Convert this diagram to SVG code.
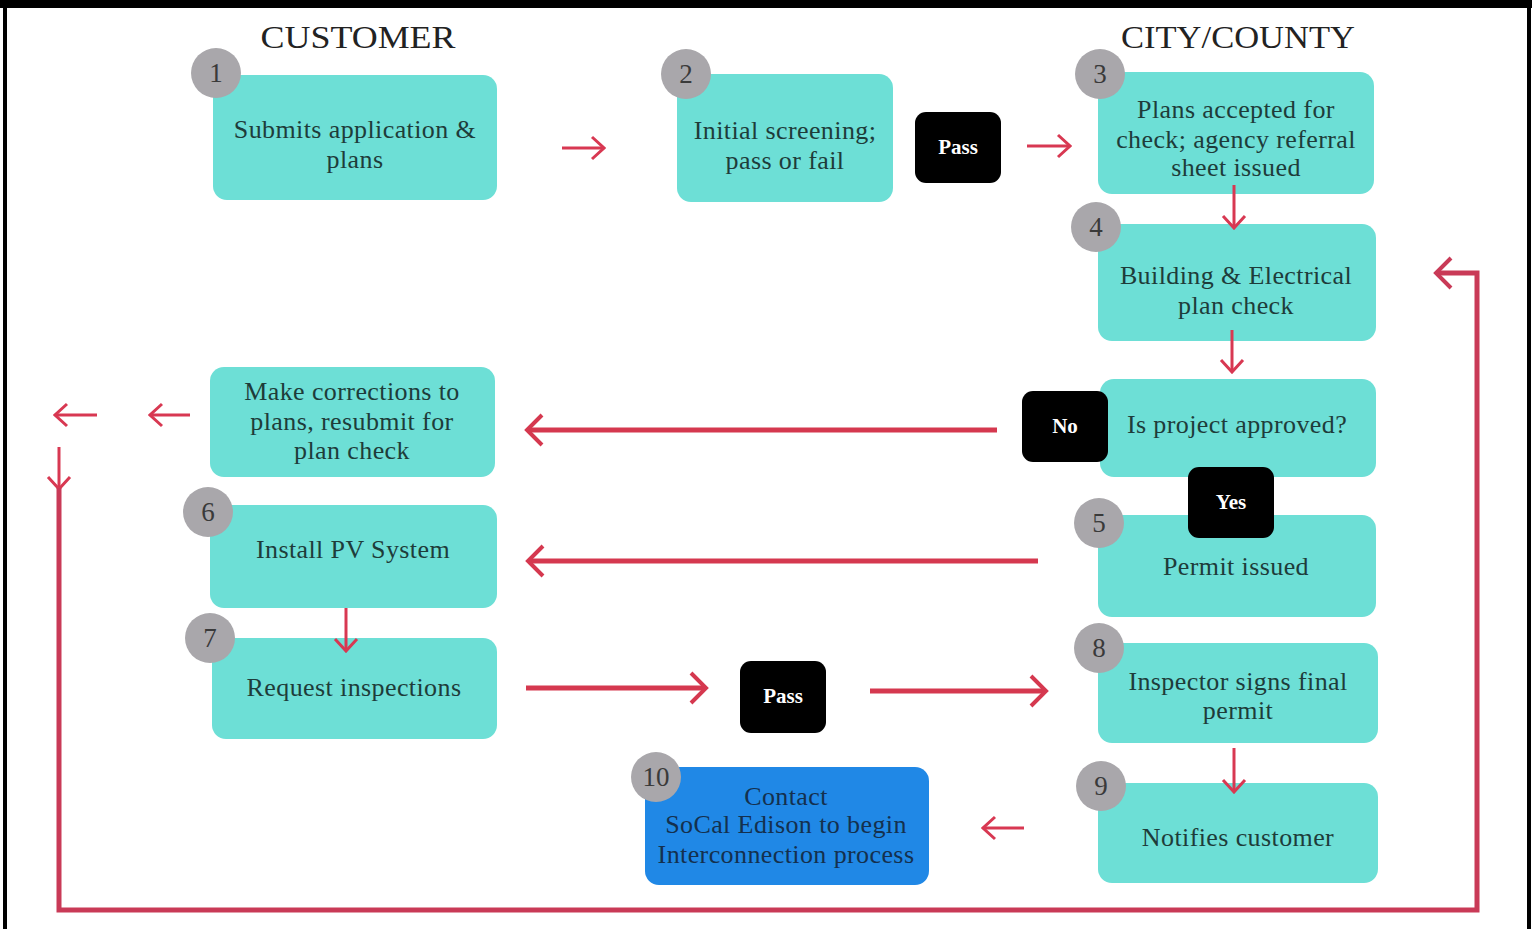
<svg xmlns="http://www.w3.org/2000/svg" width="1538" height="929" viewBox="0 0 1538 929">
<defs>
<style>
.box{fill:#6DDFD6}
.blue{fill:#2088E6}
.blk{fill:#000}
.num{fill:#A9A7AB}
.numt{font-family:"Liberation Serif",serif;font-size:27px;fill:#3A3A3A;text-anchor:middle}
.t{font-family:"Liberation Serif",serif;font-size:26px;letter-spacing:0.4px;fill:#1E3C3A;text-anchor:middle}
.tb{font-family:"Liberation Serif",serif;font-size:26px;letter-spacing:0.4px;fill:#14304E;text-anchor:middle}
.w{font-family:"Liberation Serif",serif;font-size:21px;font-weight:bold;fill:#fff;text-anchor:middle}
.h{font-family:"Liberation Serif",serif;font-size:32px;fill:#222;text-anchor:middle}
.a{fill:none;stroke:#D83852;stroke-width:3}
.A{fill:none;stroke:#D5384F;stroke-width:5}
.L{fill:none;stroke:#C93A57;stroke-width:5}
</style>
<marker id="s" viewBox="0 0 16 26" refX="14" refY="13" markerWidth="16" markerHeight="26" markerUnits="userSpaceOnUse" orient="auto"><path d="M2,2 L14,13 L2,24" fill="none" stroke="#D83852" stroke-width="3"/></marker>
<marker id="b" viewBox="0 0 20 34" refX="17" refY="17" markerWidth="20" markerHeight="34" markerUnits="userSpaceOnUse" orient="auto"><path d="M2,2 L17,17 L2,32" fill="none" stroke="#D5384F" stroke-width="4"/></marker>
<marker id="bl" viewBox="0 0 20 34" refX="17" refY="17" markerWidth="20" markerHeight="34" markerUnits="userSpaceOnUse" orient="auto"><path d="M2,2 L17,17 L2,32" fill="none" stroke="#C93A57" stroke-width="4"/></marker>
</defs>
<rect x="0" y="0" width="1538" height="929" fill="#fff"/>
<rect x="0" y="0" width="1532" height="8" fill="#000"/>
<rect x="3" y="0" width="4" height="929" fill="#000"/>
<rect x="1527" y="0" width="4" height="929" fill="#000"/>
<text class="h" x="358" y="48" textLength="195" lengthAdjust="spacingAndGlyphs">CUSTOMER</text>
<text class="h" x="1238" y="48" textLength="234" lengthAdjust="spacingAndGlyphs">CITY/COUNTY</text>

<g id="n1"><rect class="box" x="213" y="75" width="284" height="125" rx="14"/><circle class="num" cx="216" cy="73" r="25"/><text class="numt" x="216" y="82">1</text><text class="t" x="355" y="138">Submits application &amp;</text><text class="t" x="355" y="168">plans</text></g>
<g id="n2"><rect class="box" x="677" y="74" width="216" height="128" rx="14"/><circle class="num" cx="686" cy="74" r="25"/><text class="numt" x="686" y="83">2</text><text class="t" x="785" y="139">Initial screening;</text><text class="t" x="785" y="169">pass or fail</text></g>
<g id="pass1"><rect class="blk" x="915" y="112" width="86" height="71" rx="11"/><text class="w" x="958" y="154">Pass</text></g>
<g id="n3"><rect class="box" x="1098" y="72" width="276" height="122" rx="14"/><circle class="num" cx="1100" cy="74" r="25"/><text class="numt" x="1100" y="83">3</text><text class="t" x="1236" y="118">Plans accepted for</text><text class="t" x="1236" y="148">check; agency referral</text><text class="t" x="1236" y="176">sheet issued</text></g>
<g id="n4"><rect class="box" x="1098" y="224" width="278" height="117" rx="14"/><circle class="num" cx="1096" cy="227" r="25"/><text class="numt" x="1096" y="236">4</text><text class="t" x="1236" y="284">Building &amp; Electrical</text><text class="t" x="1236" y="314">plan check</text></g>
<g id="approved"><rect class="box" x="1100" y="379" width="276" height="98" rx="14"/><text class="t" x="1237" y="433">Is project approved?</text></g>
<g id="no"><rect class="blk" x="1022" y="391" width="86" height="71" rx="11"/><text class="w" x="1065" y="433">No</text></g>
<g id="n5"><rect class="box" x="1098" y="515" width="278" height="102" rx="14"/><circle class="num" cx="1099" cy="523" r="25"/><text class="numt" x="1099" y="532">5</text><text class="t" x="1236" y="575">Permit issued</text></g>
<g id="yes"><rect class="blk" x="1188" y="467" width="86" height="71" rx="11"/><text class="w" x="1231" y="509">Yes</text></g>
<g id="corrections"><rect class="box" x="210" y="367" width="285" height="110" rx="14"/><text class="t" x="352" y="400">Make corrections to</text><text class="t" x="352" y="430">plans, resubmit for</text><text class="t" x="352" y="459">plan check</text></g>
<g id="n6"><rect class="box" x="210" y="505" width="287" height="103" rx="14"/><circle class="num" cx="208" cy="512" r="25"/><text class="numt" x="208" y="521">6</text><text class="t" x="353" y="558">Install PV System</text></g>
<g id="n7"><rect class="box" x="212" y="638" width="285" height="101" rx="14"/><circle class="num" cx="210" cy="638" r="25"/><text class="numt" x="210" y="647">7</text><text class="t" x="354" y="696">Request inspections</text></g>
<g id="pass2"><rect class="blk" x="740" y="661" width="86" height="72" rx="11"/><text class="w" x="783" y="703">Pass</text></g>
<g id="n8"><rect class="box" x="1098" y="643" width="280" height="100" rx="14"/><circle class="num" cx="1099" cy="648" r="25"/><text class="numt" x="1099" y="657">8</text><text class="t" x="1238" y="690">Inspector signs final</text><text class="t" x="1238" y="719">permit</text></g>
<g id="n9"><rect class="box" x="1098" y="783" width="280" height="100" rx="14"/><circle class="num" cx="1101" cy="786" r="25"/><text class="numt" x="1101" y="795">9</text><text class="t" x="1238" y="846">Notifies customer</text></g>
<g id="n10"><rect class="blue" x="645" y="767" width="284" height="118" rx="14"/><circle class="num" cx="656" cy="777" r="25"/><text class="numt" x="656" y="786">10</text><text class="tb" x="786" y="805">Contact</text><text class="tb" x="786" y="833">SoCal Edison to begin</text><text class="tb" x="786" y="863">Interconnection process</text></g>

<g id="connectors">
<path class="a" d="M562,148 H604" marker-end="url(#s)"/>
<path class="a" d="M1027,146 H1070" marker-end="url(#s)"/>
<path class="a" d="M1234,185 V228" marker-end="url(#s)"/>
<path class="a" d="M1232,330 V372" marker-end="url(#s)"/>
<path class="A" d="M997,430 H527" marker-end="url(#b)"/>
<path class="A" d="M1038,561 H528" marker-end="url(#b)"/>
<path class="a" d="M346,608 V651" marker-end="url(#s)"/>
<path class="A" d="M526,688 H706" marker-end="url(#b)"/>
<path class="A" d="M870,691 H1046" marker-end="url(#b)"/>
<path class="a" d="M1234,748 V792" marker-end="url(#s)"/>
<path class="a" d="M1024,828 H983" marker-end="url(#s)"/>
<path class="a" d="M190,415 H150" marker-end="url(#s)"/>
<path class="a" d="M97,415 H55" marker-end="url(#s)"/>
<path class="a" d="M59,447 V489" marker-end="url(#s)"/>
<path class="L" d="M59,488 V910 H1477 V273 H1436" marker-end="url(#bl)"/>
</g>
</svg>
